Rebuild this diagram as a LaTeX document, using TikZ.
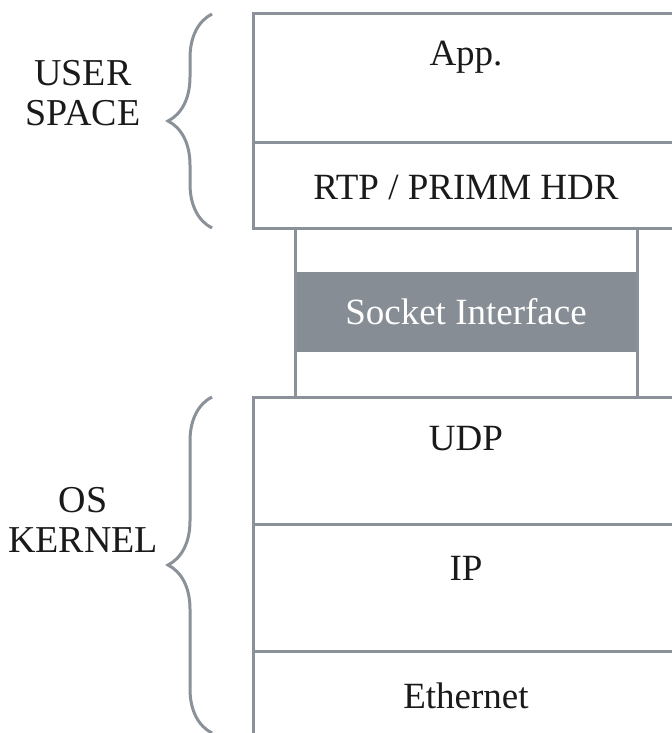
\documentclass[tikz,border=0pt]{standalone}
\usepackage{fontspec}
\setmainfont{Liberation Serif}
\usepackage{tikz}
\usetikzlibrary{calc,decorations.pathreplacing}
\definecolor{sgray}{HTML}{8A9198}
\definecolor{sfill}{HTML}{878D94}
\definecolor{stext}{HTML}{1A1A1A}

\begin{document}
\begin{tikzpicture}[x=0.5pt, y=-0.5pt,
    layer/.style={draw=sgray, line width=1.5pt},
    lbl/.style={font=\fontsize{18.5}{22}\selectfont, text=stext, inner sep=0pt, anchor=base},
    side/.style={font=\fontsize{19}{20}\selectfont, text=stext, align=center, inner sep=0pt},
    brc/.style={draw=sgray, line width=1.5pt, decorate, decoration={brace, amplitude=22pt, aspect=0.5}}
    ]
        \clip (0,0) rectangle (672,733);
        % user space stack
        \draw[layer] (720,14) -| (253,228) -- (720,228);
        \draw[layer] (253,142) -- (720,142);
        \node[lbl] (app) at (466,66) {App.};
        \node[lbl] (rtp) at (466,199) {RTP / PRIMM HDR};
        % socket
        \node[fill=sfill, text=white, inner sep=0pt, minimum width=171pt, minimum height=40pt,
              font=\fontsize{18.5}{22}\selectfont] (sock) at (466,312) {Socket Interface};
        \draw[layer] (295,228) -- (295,397);
        \draw[layer] (637,228) -- (637,397);
        % kernel stack
        \draw[layer] (720,397) -| (253,760);
        \draw[layer] (253,524) -- (720,524);
        \draw[layer] (253,651) -- (720,651);
        \node[lbl] (udp) at (466,450) {UDP};
        \node[lbl] (ip) at (466,580) {IP};
        \node[lbl] (eth) at (466,708) {Ethernet};
        % braces
        \coordinate (usrB) at (212,228);
        \coordinate (usrT) at (212,14);
        \coordinate (osB) at (212,733);
        \coordinate (osT) at (212,397);
        \draw[brc] (usrB) -- (usrT);
        \draw[brc] (osB) -- (osT);
        \node[side] (user) at (83,93) {USER\\SPACE};
        \node[side] (os) at (83,520) {OS\\KERNEL};
    \end{tikzpicture}
\end{document}
